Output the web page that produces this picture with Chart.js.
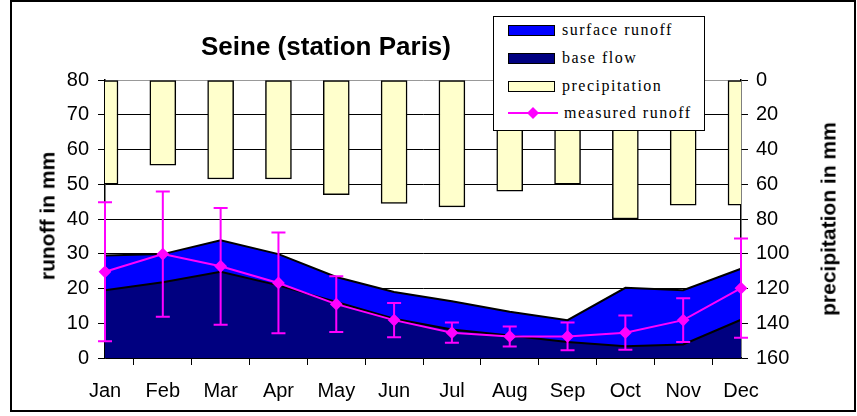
<!DOCTYPE html>
<html>
<head>
<meta charset="utf-8">
<script src="https://cdn.jsdelivr.net/npm/chart.js@4.4.1/dist/chart.umd.min.js"></script>
<style>
  body { margin: 0; background: #fff; }
  #wrap { position: relative; width: 857px; height: 416px; font-family: "Liberation Sans", Arial, sans-serif; }
  #title { position: absolute; left: 326px; top: 33px; transform: translateX(-50%); font-weight: bold; font-size: 26px; line-height: 26px; white-space: nowrap; }
  .axtitle { position: absolute; font-weight: bold; font-size: 21px; line-height: 21px; white-space: nowrap; transform: translate(-50%, -50%) rotate(-90deg); }
  #legend { position: absolute; left: 493px; top: 16px; width: 210px; height: 113px; border: 1px solid #000; background: #fff; font-family: "Liberation Serif", "Times New Roman", serif; font-size: 16px; letter-spacing: 1.5px; }
  .row { position: absolute; left: 14px; height: 20px; display: flex; align-items: center; white-space: nowrap; }
  .sw { width: 45px; height: 9px; border: 1.5px solid #000; margin-right: 7px; }
  .row svg { margin-right: 4px; }
</style>
</head>
<body>
<div id="wrap">
  <canvas id="runoff" width="857" height="416"></canvas>
  <div id="title">Seine (station Paris)</div>
  <div class="axtitle" style="left:47px; top:216px;">runoff in mm</div>
  <div class="axtitle" style="left:828px; top:219px;">precipitation in mm</div>
  <div id="legend">
    <div class="row" style="top:3px;"><div class="sw" style="background:#0000ff"></div>surface runoff</div>
    <div class="row" style="top:31px;"><div class="sw" style="background:#000080"></div>base flow</div>
    <div class="row" style="top:59px;"><div class="sw" style="background:#ffffcc"></div>precipitation</div>
    <div class="row" style="top:86px;"><svg width="52" height="14"><line x1="0" y1="7" x2="50" y2="7" stroke="#ff00ff" stroke-width="2"/><polygon points="25,1 31,7 25,13 19,7" fill="#ff00ff"/></svg>measured runoff</div>
  </div>
</div>
<script>
var months = ['Jan', 'Feb', 'Mar', 'Apr', 'May', 'Jun', 'Jul', 'Aug', 'Sep', 'Oct', 'Nov', 'Dec'];
var precipitation = [60, 49, 57, 57, 66, 71, 73, 64, 60, 80, 72, 72];
var baseFlow = [19.5, 21.8, 24.8, 20.9, 16.1, 11.3, 8.2, 6.5, 4.6, 3.4, 3.9, 11.0];
var surfaceRunoff = [10.0, 8.1, 9.1, 9.0, 7.2, 7.7, 8.1, 6.8, 6.3, 16.8, 15.6, 14.7];
var measuredRunoff = [24.8, 29.9, 26.4, 21.6, 15.5, 10.9, 7.3, 6.2, 6.2, 7.3, 10.9, 20.1];
var measuredError = [20, 18, 16.8, 14.5, 8, 4.9, 2.9, 2.9, 4, 4.9, 6.3, 14.3];

var tickFont = { family: '"Liberation Sans", Arial, sans-serif', size: 20 };

// error bars around the measured runoff points
var errorBars = {
  id: 'errorBars',
  beforeDatasetDraw: function (chart, args) {
    if (args.index !== 3) return;
    var ctx = chart.ctx, y = chart.scales.y, pts = args.meta.data;
    ctx.save();
    ctx.strokeStyle = '#ff00ff';
    ctx.lineWidth = 2;
    for (var i = 0; i < pts.length; i++) {
      var x = pts[i].x;
      var top = y.getPixelForValue(measuredRunoff[i] + measuredError[i]);
      var bot = y.getPixelForValue(measuredRunoff[i] - measuredError[i]);
      ctx.beginPath();
      ctx.moveTo(x, top); ctx.lineTo(x, bot);
      ctx.moveTo(x - 7, top); ctx.lineTo(x + 7, top);
      ctx.moveTo(x - 7, bot); ctx.lineTo(x + 7, bot);
      ctx.stroke();
    }
    ctx.restore();
  }
};

// outer frame
var frame = {
  id: 'frame',
  afterDraw: function (chart) {
    var ctx = chart.ctx;
    ctx.save();
    ctx.strokeStyle = '#000';
    ctx.lineWidth = 2;
    ctx.strokeRect(11, 1, 844, 410);
    ctx.restore();
  }
};

Chart.defaults.color = '#000';

new Chart('runoff', {
  data: {
    labels: months,
    datasets: [{
      type: 'bar',
      label: 'precipitation',
      data: precipitation,
      yAxisID: 'y2',
      backgroundColor: '#ffffcc',
      borderColor: '#000',
      borderWidth: 1.5,
      borderSkipped: false,
      barThickness: 26,
      order: 3
    }, {
      type: 'line',
      label: 'base flow',
      data: baseFlow,
      yAxisID: 'y',
      stack: 'flow',
      backgroundColor: '#000080',
      borderColor: '#000',
      borderWidth: 2,
      fill: 'origin',
      pointRadius: 0,
      order: 1
    }, {
      type: 'line',
      label: 'surface runoff',
      data: surfaceRunoff,
      yAxisID: 'y',
      stack: 'flow',
      backgroundColor: '#0000ff',
      borderColor: '#000',
      borderWidth: 2,
      fill: '-1',
      pointRadius: 0,
      order: 2
    }, {
      type: 'line',
      label: 'measured runoff',
      data: measuredRunoff,
      yAxisID: 'y',
      stack: 'measured',
      borderColor: '#ff00ff',
      backgroundColor: '#ff00ff',
      borderWidth: 2,
      fill: false,
      pointStyle: 'rectRot',
      pointRadius: 5,
      order: 0
    }]
  },
  options: {
    responsive: false,
    devicePixelRatio: 1,
    animation: false,
    layout: { padding: { top: 80, left: 0, right: 0, bottom: 0 } },
    plugins: { legend: { display: false }, tooltip: { enabled: false } },
    scales: {
      x: {
        offset: false,
        grid: { display: true, drawOnChartArea: false, tickLength: 7, color: '#000' },
        border: { color: '#000', width: 1.5 },
        ticks: { font: tickFont, padding: 14, maxRotation: 0 },
        afterFit: function (s) { s.height = 58; }
      },
      y: {
        position: 'left',
        stacked: true,
        min: 0, max: 80,
        ticks: { stepSize: 10, font: tickFont, padding: 9 },
        grid: {
          tickLength: 7,
          color: function (c) { return c.tick && c.tick.value === 80 ? '#999' : '#000'; },
          tickColor: '#000'
        },
        border: { color: '#000', width: 1.5 },
        afterFit: function (s) { s.width = 105; }
      },
      y2: {
        position: 'right',
        reverse: true,
        min: 0, max: 160,
        ticks: { stepSize: 20, font: tickFont, padding: 8 },
        grid: { drawOnChartArea: false, tickLength: 7, color: '#000' },
        border: { color: '#000', width: 1.5 },
        afterFit: function (s) { s.width = 116; }
      }
    }
  },
  plugins: [errorBars, frame]
});
</script>
</body>
</html>
